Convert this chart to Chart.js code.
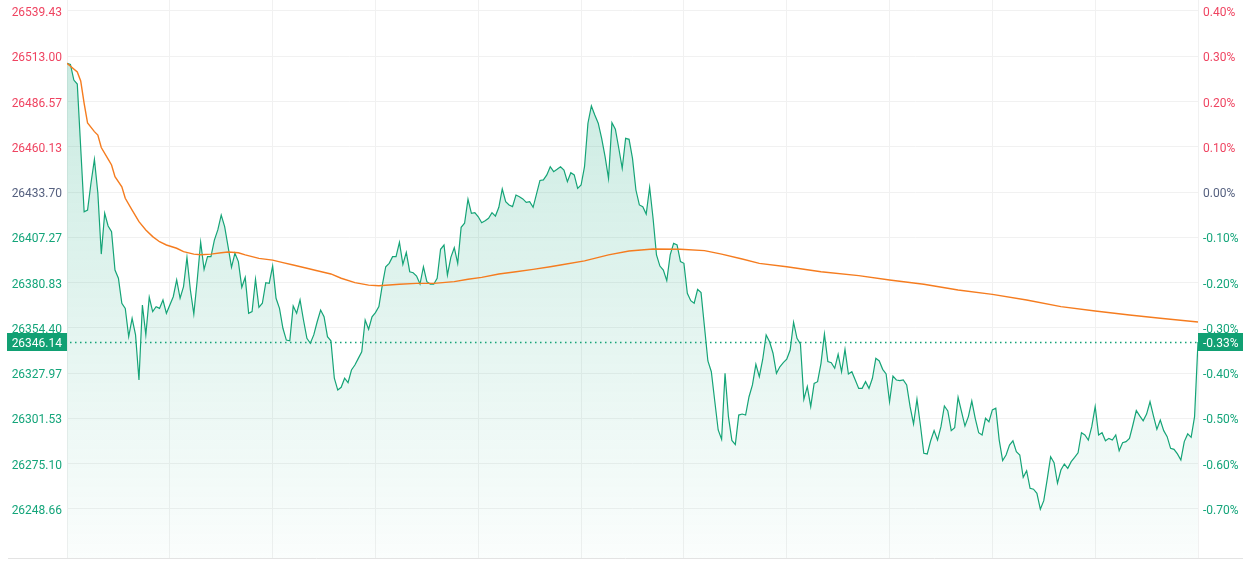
<!DOCTYPE html>
<html>
<head>
<meta charset="utf-8">
<script src="https://cdn.jsdelivr.net/npm/chart.js@4.4.1/dist/chart.umd.min.js"></script>
<style>
html,body{margin:0;padding:0;background:#ffffff;}
#wrap{width:1250px;height:561px;position:relative;}
canvas{display:block;}
</style>
</head>
<body>
<div id="wrap"><canvas id="c" width="1250" height="561"></canvas></div>
<script>
// ---- data ----
const prevClose = 26433.70;
const pctTicks = [0.4, 0.3, 0.2, 0.1, 0.0, -0.1, -0.2, -0.3, -0.4, -0.5, -0.6, -0.7];
const yRange = [26220.05, 26545.85];
const sessionMinutes = [0, 330];
const gridStepMinutes = 30;

// index = minute of session (null = no reading)
const prices = [
  26508.9, 26508.2, 26499.1, 26496.8, null, 26422.2, 26423.2, 26439.0, 26452.8, 26433.2,
  26397.5, 26421.3, 26413.9, 26410.6, 26388.2, 26383.4, 26368.8, 26365.8, 26349.3, 26360.0,
  26350.3, 26324.0, 26367.8, 26350.3, 26372.3, 26363.9, 26366.8, 26365.8, 26370.7, 26362.9,
  null, 26372.6, 26382.4, 26371.7, 26378.5, 26395.6, 26376.5, 26362.5, 26382.4, 26404.4,
  26388.6, 26396.0, 26396.0, 26405.7, 26411.6, 26420.3, 26413.5, 26401.8, 26389.8, 26398.0,
  26393.1, 26378.1, 26383.9, 26362.9, 26363.9, 26382.8, 26366.4, 26368.8, 26380.8, 26380.4,
  26390.5, 26371.7, 26365.8, 26354.2, 26347.3, 26346.9, 26367.2, 26362.9, 26370.7, 26359.0,
  26348.3, 26345.4, 26350.3, 26358.0, 26364.8, 26360.9, 26349.3, 26346.9, 26325.0, 26318.1,
  26319.7, 26325.0, 26322.4, 26329.8, 26332.7, 26336.6, 26340.5, 26359.0, 26353.6, 26360.9,
  26363.3, 26366.8, 26379.4, 26390.1, 26392.1, 26396.0, 26396.0, 26404.4, 26391.5, 26398.5,
  26387.2, 26386.6, 26384.7, 26380.0, 26390.1, 26381.4, 26380.0, 26379.9, 26383.4, 26400.3,
  26402.8, 26385.3, 26395.6, 26401.2, 26392.1, 26413.1, 26415.5, 26429.5, 26421.3, 26421.7,
  26419.3, 26415.8, 26417.0, 26418.4, 26421.7, 26419.7, 26424.8, 26435.5, 26428.1, 26426.2,
  26425.2, 26432.0, 26431.0, 26429.7, 26427.7, 26428.1, 26424.8, 26432.6, 26440.5, 26440.8,
  26443.7, 26448.5, 26445.6, 26447.0, 26448.5, 26446.6, 26439.8, 26445.0, 26443.7, 26435.9,
  26437.8, 26448.5, 26473.9, 26484.0, 26478.7, 26473.9, 26465.1, 26454.4, 26441.7, 26474.2,
  26470.4, 26459.3, 26447.6, 26465.1, 26464.5, 26453.4, 26434.9, 26426.2, 26425.2, 26420.9,
  26436.5, 26418.4, 26397.0, 26390.5, 26388.2, 26382.0, 26397.0, 26403.8, 26402.8, 26393.1,
  26392.1, 26374.6, 26370.3, 26368.8, 26376.9, 26375.0, 26355.1, 26335.1, 26328.8, 26311.7,
  26294.8, 26289.4, 26327.9, 26302.4, 26288.7, 26286.3, 26303.5, 26304.1, 26303.5, 26314.2,
  26321.1, 26333.1, 26325.9, 26336.1, 26350.3, 26346.3, 26339.6, 26327.9, 26331.7, 26334.1,
  26336.1, 26341.5, 26357.7, 26348.3, 26345.0, 26312.7, 26320.1, 26308.4, 26322.0, 26323.0,
  26333.7, 26350.8, 26334.7, 26334.1, 26330.8, 26339.0, 26328.8, 26341.9, 26327.5, 26328.8,
  26324.0, 26319.1, 26319.1, 26323.0, 26319.1, 26325.0, 26336.6, 26335.1, 26330.2, 26327.5,
  26311.3, 26326.3, 26324.0, 26323.6, 26324.0, 26321.1, 26308.4, 26298.3, 26312.7, 26297.7,
  26281.2, 26280.8, 26288.5, 26294.4, 26288.9, 26296.7, 26308.8, 26305.9, 26294.4, 26296.1,
  26313.9, 26305.5, 26297.1, 26302.6, 26311.7, 26301.6, 26293.2, 26291.9, 26301.6, 26299.6,
  26306.5, 26307.5, 26288.9, 26276.9, 26280.2, 26286.0, 26288.5, 26282.1, 26280.2, 26267.2,
  26271.0, 26260.7, 26260.2, 26257.8, 26248.5, 26253.5, 26266.0, 26279.2, 26275.7, 26263.7,
  26271.4, 26274.9, 26272.4, 26276.3, 26278.8, 26281.5, 26293.2, 26291.9, 26288.9, 26296.7,
  26308.4, 26291.9, 26293.2, 26288.5, 26289.9, 26288.9, 26291.9, 26282.7, 26287.4, 26288.0,
  26289.9, 26297.7, 26306.1, 26303.0, 26300.2, 26304.1, 26311.3, 26303.0, 26295.2, 26300.6,
  26294.4, 26290.9, 26284.1, 26283.5, 26280.8, 26277.3, 26288.0, 26292.5, 26290.5, 26302.6,
  26346.14
];

const avgMinutes = [0, 3, 4, 5, 6, 8, 9, 10, 12, 13, 14, 16, 17, 19, 21, 23, 25, 27, 29, 32,
  34, 37, 39, 42, 45, 47, 50, 52, 56, 60, 63, 66, 70, 73, 77, 80, 84, 88, 91, 97,
  102, 107, 113, 117, 121, 126, 131, 136, 141, 144, 151, 158, 164, 171, 179, 186, 191, 197, 202, 210,
  220, 231, 240, 250, 260, 270, 280, 290, 300, 310, 319, 330];
const avgPrices = [26508.9, 26503.8, 26498.6, 26485.5, 26474.0, 26469.0, 26467.0, 26459.7, 26453.0, 26449.5,
  26442.7, 26436.8, 26430.1, 26423.2, 26416.4, 26411.6, 26407.7, 26404.7, 26402.8, 26400.9,
  26398.9, 26397.5, 26397.1, 26397.5, 26398.3, 26398.7, 26398.3, 26397.0, 26395.0, 26394.0,
  26392.5, 26391.1, 26389.2, 26387.8, 26385.9, 26383.4, 26380.8, 26379.4, 26379.0, 26379.9,
  26380.4, 26380.4, 26381.4, 26382.8, 26383.9, 26385.9, 26387.2, 26388.6, 26390.1, 26391.1,
  26393.5, 26397.0, 26399.3, 26400.5, 26400.3, 26399.5, 26397.5, 26394.6, 26392.1, 26390.1,
  26387.2, 26384.9, 26382.4, 26379.9, 26376.5, 26374.0, 26370.7, 26366.8, 26364.3, 26361.9,
  26360.0, 26357.8];

// ---- styles ----
const UP = '#ef4461', FLAT = '#55607f', DOWN = '#14a57a';
const LINE = '#15a477', AVG = '#f57c1f', BOX = '#11a073';
const GRID = '#f1f1f1';
const FONT = {family: 'Roboto', size: 12};

const tickValues = pctTicks.map(p => prevClose * (1 + p / 100));
const lastPrice = prices[prices.length - 1];
const lastPct = (lastPrice / prevClose - 1) * 100;

function colorFor(v) {
  if (v > prevClose + 0.005) return UP;
  if (v < prevClose - 0.005) return DOWN;
  return FLAT;
}
function pctLabel(p) {
  const r = Math.round(p * 100) / 100;
  return (Math.abs(r) < 1e-9 ? 0 : r).toFixed(2) + '%';
}

const priceData = prices.map((v, i) => ({x: i, y: v}));
const avgData = avgMinutes.map((m, i) => ({x: m, y: avgPrices[i]}));

const overlay = {
  id: 'overlay',
  afterDraw(chart) {
    const {ctx, chartArea} = chart;
    const ys = chart.scales.y;
    const py = Math.round(ys.getPixelForValue(lastPrice)) + 0.5;
    ctx.save();
    // bottom rule
    ctx.strokeStyle = '#e3e3e3';
    ctx.lineWidth = 1;
    ctx.beginPath();
    ctx.moveTo(8, Math.round(chartArea.bottom) + 0.5);
    ctx.lineTo(1243, Math.round(chartArea.bottom) + 0.5);
    ctx.stroke();
    // dotted last-price line
    ctx.strokeStyle = LINE;
    ctx.lineWidth = 1.5;
    ctx.setLineDash([1.5, 3.5]);
    ctx.beginPath();
    ctx.moveTo(chartArea.left + 3, py);
    ctx.lineTo(chartArea.right, py);
    ctx.stroke();
    ctx.setLineDash([]);
    // label boxes
    ctx.fillStyle = BOX;
    ctx.fillRect(7, py - 9.5, chartArea.left - 7, 18);
    ctx.fillRect(chartArea.right, py - 9.5, 45, 18);
    ctx.fillStyle = '#ffffff';
    ctx.font = '12px Roboto';
    ctx.textBaseline = 'middle';
    ctx.textAlign = 'right';
    ctx.fillText(lastPrice.toFixed(2), chartArea.left - 5, py + 1);
    ctx.textAlign = 'left';
    ctx.fillText(pctLabel(lastPct), chartArea.right + 5, py + 1);
    ctx.restore();
  }
};

new Chart(document.getElementById('c'), {
  type: 'line',
  data: {
    datasets: [
      {
        data: avgData,
        borderColor: AVG,
        borderWidth: 1.4,
        pointRadius: 0,
        fill: false,
        tension: 0,
        order: 0
      },
      {
        data: priceData,
        borderColor: LINE,
        borderWidth: 1.2,
        pointRadius: 0,
        tension: 0,
        spanGaps: true,
        fill: 'start',
        order: 1,
        backgroundColor: (c) => {
          const ch = c.chart;
          const area = ch.chartArea;
          if (!area) return 'rgba(20,166,124,0.12)';
          const g = ch.ctx.createLinearGradient(0, area.top, 0, area.bottom);
          g.addColorStop(0, 'rgba(20,166,124,0.25)');
          g.addColorStop(1, 'rgba(20,166,124,0.02)');
          return g;
        }
      }
    ]
  },
  options: {
    responsive: false,
    animation: false,
    events: [],
    layout: {padding: {left: 0, right: 0, top: 0, bottom: 3}},
    plugins: {legend: {display: false}, tooltip: {enabled: false}},
    scales: {
      x: {
        type: 'linear',
        min: sessionMinutes[0],
        max: sessionMinutes[1],
        border: {display: false},
        grid: {color: GRID, drawTicks: false},
        ticks: {display: false, stepSize: gridStepMinutes}
      },
      y: {
        type: 'linear',
        position: 'left',
        min: yRange[0],
        max: yRange[1],
        afterBuildTicks: s => { s.ticks = tickValues.map(v => ({value: v})); },
        afterFit: s => { s.width = 67; s.paddingTop = 0; s.paddingBottom = 0; },
        border: {display: false},
        grid: {color: GRID, drawTicks: false},
        ticks: {
          padding: 5,
          labelOffset: 2,
          font: FONT,
          color: c => colorFor(c.tick.value),
          callback: v => Number(v).toFixed(2)
        }
      },
      y2: {
        type: 'linear',
        position: 'right',
        min: yRange[0],
        max: yRange[1],
        afterBuildTicks: s => { s.ticks = tickValues.map(v => ({value: v})); },
        afterFit: s => { s.width = 52; s.paddingTop = 0; s.paddingBottom = 0; },
        border: {display: false},
        grid: {display: false, drawTicks: false},
        ticks: {
          padding: 5,
          labelOffset: 2,
          font: FONT,
          color: c => colorFor(c.tick.value),
          callback: (v, i) => pctLabel(pctTicks[i])
        }
      }
    }
  },
  plugins: [overlay]
});
</script>
</body>
</html>
